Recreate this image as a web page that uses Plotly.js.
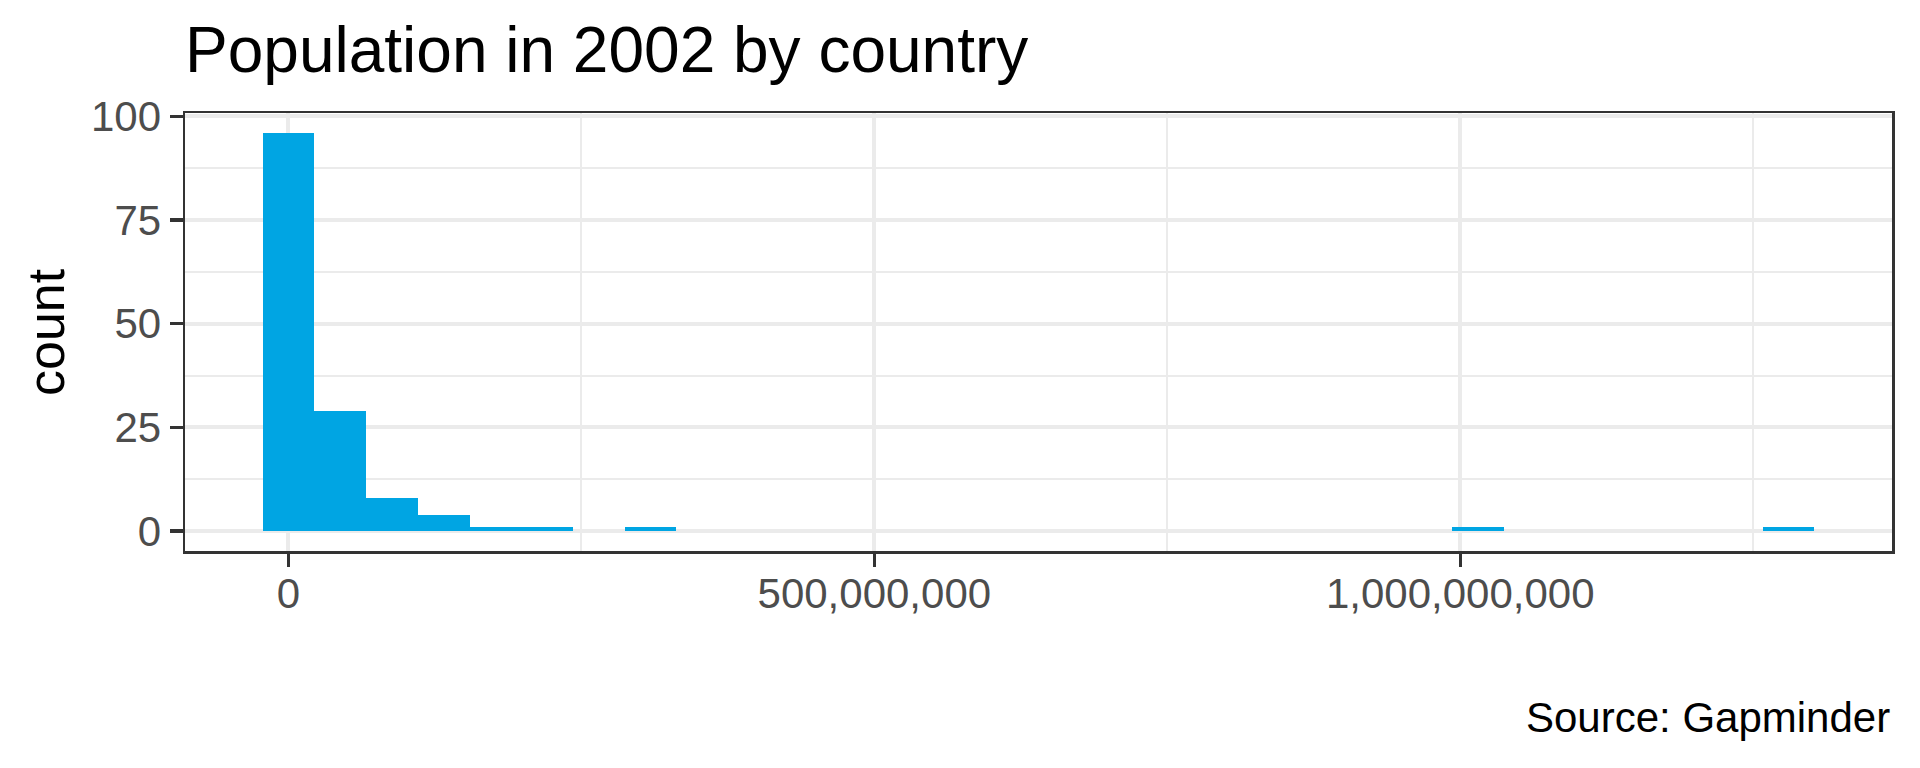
<!DOCTYPE html>
<html>
<head>
<meta charset="utf-8">
<script src="https://cdn.plot.ly/plotly-3.0.1.min.js"></script>
<style>html,body{margin:0;padding:0;background:#fff;}#chart{width:1920px;height:768px;}</style>
</head>
<body>
<div id="chart"></div>
<script>
// Histogram of country populations in 2002 (30 bins, ggplot-style)
const popMin = 170372;          // smallest population (people)
const popMax = 1280400000;      // largest population (people)
const nBins = 30;
const binCounts = [96, 29, 8, 4, 1, 1, 0, 1, 0, 0, 0, 0, 0, 0, 0, 0, 0, 0, 0, 0, 0, 0, 0, 1, 0, 0, 0, 0, 0, 1];
const xTickVals = [0, 500000000, 1000000000];
const yTickVals = [0, 25, 50, 75, 100];

const binWidth = (popMax - popMin) / (nBins - 1);
const binCenters = binCounts.map((_, i) => i * binWidth);

const xLo = binCenters[0] - binWidth / 2, xHi = binCenters[nBins - 1] + binWidth / 2;
const xPad = (xHi - xLo) * 0.05;
const yMax = Math.max(...binCounts);
const yPad = yMax * 0.05;

const trace = {
  type: 'bar',
  x: binCenters,
  y: binCounts,
  width: binCenters.map(() => binWidth),
  marker: {color: '#00A5E3', line: {width: 0}},
  hoverinfo: 'skip'
};

const tickFont = {family: 'Liberation Sans, Arial, sans-serif', size: 42, color: '#4D4D4D'};

const layout = {
  width: 1920, height: 768,
  margin: {l: 185, r: 28, t: 113, b: 216.5, pad: 0},
  paper_bgcolor: '#ffffff', plot_bgcolor: '#ffffff',
  showlegend: false,
  bargap: 0,
  font: {family: 'Liberation Sans, Arial, sans-serif', color: '#000000'},
  title: {
    text: 'Population in 2002 by country',
    font: {family: 'Liberation Sans, Arial, sans-serif', size: 64, color: '#000000'},
    xref: 'paper', x: 0, xanchor: 'left',
    yref: 'container', y: 1 - 50 / 768, yanchor: 'middle'
  },
  xaxis: {
    range: [xLo - xPad, xHi + xPad],
    tickvals: xTickVals, tickformat: ',d',
    ticks: 'outside', ticklen: 13, tickwidth: 3.3, tickcolor: '#333333',
    ticklabelstandoff: -9,
    tickfont: tickFont,
    showgrid: true, gridcolor: '#EBEBEB', gridwidth: 4,
    minor: {tickvals: [250000000, 750000000, 1250000000], showgrid: true, gridcolor: '#EBEBEB', gridwidth: 2, ticks: ''},
    zeroline: false,
    showline: true, mirror: true, linecolor: '#333333', linewidth: 2.5,
    fixedrange: true
  },
  yaxis: {
    range: [-yPad, yMax + yPad],
    tickvals: yTickVals,
    ticks: 'outside', ticklen: 13, tickwidth: 3.3, tickcolor: '#333333',
    tickfont: tickFont,
    showgrid: true, gridcolor: '#EBEBEB', gridwidth: 4,
    minor: {tickvals: [12.5, 37.5, 62.5, 87.5], showgrid: true, gridcolor: '#EBEBEB', gridwidth: 2, ticks: ''},
    zeroline: false,
    showline: true, mirror: true, linecolor: '#333333', linewidth: 2.5,
    fixedrange: true
  },
  annotations: [
    {
      text: 'count', textangle: -90,
      xref: 'paper', x: (46 - 185) / 1707, xanchor: 'center',
      yref: 'paper', y: 0.5, yanchor: 'middle',
      showarrow: false,
      font: {family: 'Liberation Sans, Arial, sans-serif', size: 52, color: '#000000'}
    },
    {
      text: 'Source: Gapminder',
      xref: 'paper', x: 1, xanchor: 'right',
      yref: 'paper', y: (551.5 - 718) / 438.5, yanchor: 'middle',
      showarrow: false,
      font: {family: 'Liberation Sans, Arial, sans-serif', size: 42, color: '#000000'}
    }
  ]
};

Plotly.newPlot('chart', [trace], layout, {staticPlot: true, displayModeBar: false});
</script>
</body>
</html>
